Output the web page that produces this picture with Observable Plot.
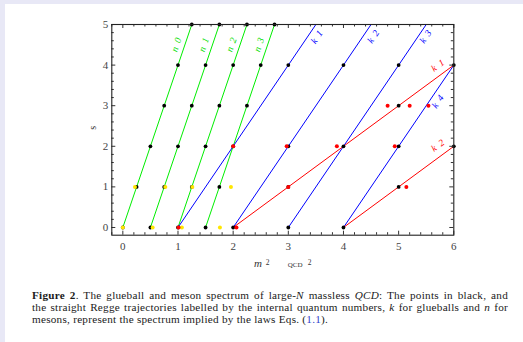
<!DOCTYPE html>
<html><head><meta charset="utf-8">
<script src="https://cdn.jsdelivr.net/npm/d3@7"></script>
<script src="https://cdn.jsdelivr.net/npm/@observablehq/plot@0.6"></script>
<style>
html,body{margin:0;padding:0;background:#e8e8f6;width:523px;height:342px;overflow:hidden}
#page{position:absolute;left:5px;top:4px;width:518px;height:338px;background:#fff}
#chart svg{display:block;background:transparent}
#cap{margin-top:9px;margin-left:27px;width:476px;font-family:"Liberation Serif",serif;font-size:11.2px;letter-spacing:0.25px;line-height:12px;color:#1a1a1a}
.j{text-align:justify;text-align-last:justify;white-space:nowrap}
</style></head><body>
<div id="page"><div id="chart"></div>
<div id="cap">
<div class="j"><b>Figure 2</b>. The glueball and meson spectrum of large-<i>N</i> massless <i>QCD</i>: The points in black, and</div>
<div class="j">the straight Regge trajectories labelled by the internal quantum numbers, <i>k</i> for glueballs and <i>n</i> for</div>
<div>mesons, represent the spectrum implied by the laws Eqs. (<span style="color:#3344cc">1.1</span>).</div>
</div></div>
<script>
// tick labels
const xTicks = [0, 1, 2, 3, 4, 5, 6];
const yTicks = [0, 1, 2, 3, 4, 5];
const xMinor = [-0.2,0.2,0.4,0.6,0.8,1.2,1.4,1.6,1.8,2.2,2.4,2.6,2.8,3.2,3.4,3.6,3.8,4.2,4.4,4.6,4.8,5.2,5.4,5.6,5.8];
const yMinor = [0.2,0.4,0.6,0.8,1.2,1.4,1.6,1.8,2.2,2.4,2.6,2.8,3.2,3.4,3.6,3.8,4.2,4.4,4.6,4.8];

// Regge trajectories (endpoints, m^2 vs s)
const mesonLines = [
  {x1:0, y1:0, x2:1.25, y2:5},
  {x1:0.5, y1:0, x2:1.75, y2:5},
  {x1:1, y1:0, x2:2.25, y2:5},
  {x1:1.5, y1:0, x2:2.75, y2:5}
];
const glueBlueLines = [
  {x1:1, y1:0, x2:3.5, y2:5},
  {x1:2, y1:0, x2:4.5, y2:5},
  {x1:3, y1:0, x2:5.5, y2:5},
  {x1:4, y1:0, x2:6, y2:4}
];
const glueRedLines = [
  {x1:2, y1:0, x2:6, y2:4},
  {x1:4, y1:0, x2:6, y2:2}
];

// spectrum points [m^2, s]
const blackPts = [
  [0,0],[0.25,1],[0.5,2],[0.75,3],[1,4],[1.25,5],
  [0.5,0],[0.75,1],[1,2],[1.25,3],[1.5,4],[1.75,5],
  [1,0],[1.25,1],[1.5,2],[1.75,3],[2,4],[2.25,5],
  [1.5,0],[1.75,1],[2,2],[2.25,3],[2.5,4],[2.75,5],
  [2,0],[3,2],[3,4],[3,0],[4,2],[4,4],[4,0],[5,2],[5,4],[6,4],
  [3,1],[5,3],[5,1],[6,2]
];
const yellowPts = [[0,0],[0.54,0],[1.07,0],[1.76,0],[0.22,1],[0.77,1],[1.26,1],[1.96,1]];
const redPts = [[1.01,0],[2.06,0],[2,2],[2.97,2],[3,1],[3.88,2],[4.93,2],[5.14,1],[4.8,3],[5.2,3],[5.54,3]];

// trajectory labels
const mesonLabels = [
  {t:"n\u00a0\u00a00", x:0.97, y:4.5},
  {t:"n\u00a0\u00a01", x:1.47, y:4.5},
  {t:"n\u00a0\u00a02", x:1.97, y:4.5},
  {t:"n\u00a0\u00a03", x:2.47, y:4.5}
];
const blueLabels = [
  {t:"k\u00a0\u00a01", x:3.515, y:4.69},
  {t:"k\u00a0\u00a02", x:4.54, y:4.7},
  {t:"k\u00a0\u00a03", x:5.49, y:4.7},
  {t:"k\u00a0\u00a04", x:5.71, y:3.1}
];
const redLabels = [
  {t:"k\u00a0\u00a01", x:5.71, y:3.99},
  {t:"k\u00a0\u00a02", x:5.71, y:2.02}
];

const W = 518, H = 276, mL = 106.3, mR = 69.7, mT = 20, mB = 45.3;
const iW = W - mL - mR, iH = H - mT - mB;
const tc = "#333";
const lab = {fontFamily:"Liberation Serif", fontStyle:"italic", fontSize:9.5};

const chart = Plot.plot({
  width: W, height: H,
  marginLeft: mL, marginRight: mR, marginTop: mT, marginBottom: mB,
  style: {fontFamily: "Liberation Serif", fontSize: "11px", color: "#444", background: "transparent"},
  x: {domain: [-0.2, 6], ticks: xTicks, tickSize: 0, tickPadding: 6.5, label: null, tickFormat: d => d},
  y: {domain: [-0.19, 5], ticks: yTicks, tickSize: 0, tickPadding: 3.5, label: null, tickFormat: d => d},
  marks: [
    Plot.link(mesonLines, {x1:"x1", y1:"y1", x2:"x2", y2:"y2", stroke:"#00ee00", strokeWidth:1}),
    Plot.link(glueBlueLines, {x1:"x1", y1:"y1", x2:"x2", y2:"y2", stroke:"#0000ff", strokeWidth:1}),
    Plot.link(glueRedLines, {x1:"x1", y1:"y1", x2:"x2", y2:"y2", stroke:"#ff0000", strokeWidth:1}),
    Plot.dot(blackPts, {x: d => d[0], y: d => d[1], r: 1.9, fill: "#000", stroke: "none"}),
    Plot.dot(yellowPts, {x: d => d[0], y: d => d[1], r: 2, fill: "#ffe600", stroke: "none"}),
    Plot.dot(redPts, {x: d => d[0], y: d => d[1], r: 2, fill: "#ff0000", stroke: "none"}),
    Plot.text(mesonLabels, {x:"x", y:"y", text:"t", rotate:-71, fill:"#00dd00", ...lab}),
    Plot.text(blueLabels, {x:"x", y:"y", text:"t", rotate:-56, fill:"#0000ff", ...lab}),
    Plot.text(redLabels, {x:"x", y:"y", text:"t", rotate:-36, fill:"#ff0000", ...lab}),
    // inward frame ticks
    Plot.ruleX(xTicks, {x: d => d, insetTop: iH - 4, stroke: tc}),
    Plot.ruleX(xMinor, {x: d => d, insetTop: iH - 2.5, stroke: tc}),
    Plot.ruleX(xTicks, {x: d => d, insetBottom: iH - 4, stroke: tc}),
    Plot.ruleX(xMinor, {x: d => d, insetBottom: iH - 2.5, stroke: tc}),
    Plot.ruleY(yTicks, {y: d => d, insetRight: iW - 4, stroke: tc}),
    Plot.ruleY(yMinor, {y: d => d, insetRight: iW - 2.5, stroke: tc}),
    Plot.ruleY(yTicks, {y: d => d, insetLeft: iW - 4, stroke: tc}),
    Plot.ruleY(yMinor, {y: d => d, insetLeft: iW - 2.5, stroke: tc}),
    Plot.frame({stroke: "#222", strokeWidth: 1.1}),
    // axis labels
    Plot.text(["s"], {frameAnchor:"left", dx:-19, rotate:-90, fontSize:10, fill:"#333", fontFamily:"Liberation Serif"}),
    Plot.text(["m"], {frameAnchor:"bottom", lineAnchor:"bottom", dx:-24.8, dy:31.8, fontSize:11, fontStyle:"italic", fill:"#333"}),
    Plot.text(["2"], {frameAnchor:"bottom", lineAnchor:"bottom", dx:-15.3, dy:29.3, fontSize:7.5, fill:"#333"}),
    Plot.text(["QCD"], {frameAnchor:"bottom", lineAnchor:"bottom", dx:12.4, dy:32, fontSize:7, fill:"#333"}),
    Plot.text(["2"], {frameAnchor:"bottom", lineAnchor:"bottom", dx:26.7, dy:29.3, fontSize:7.5, fill:"#333"})
  ]
});
document.getElementById("chart").appendChild(chart);
</script>
</body></html>
